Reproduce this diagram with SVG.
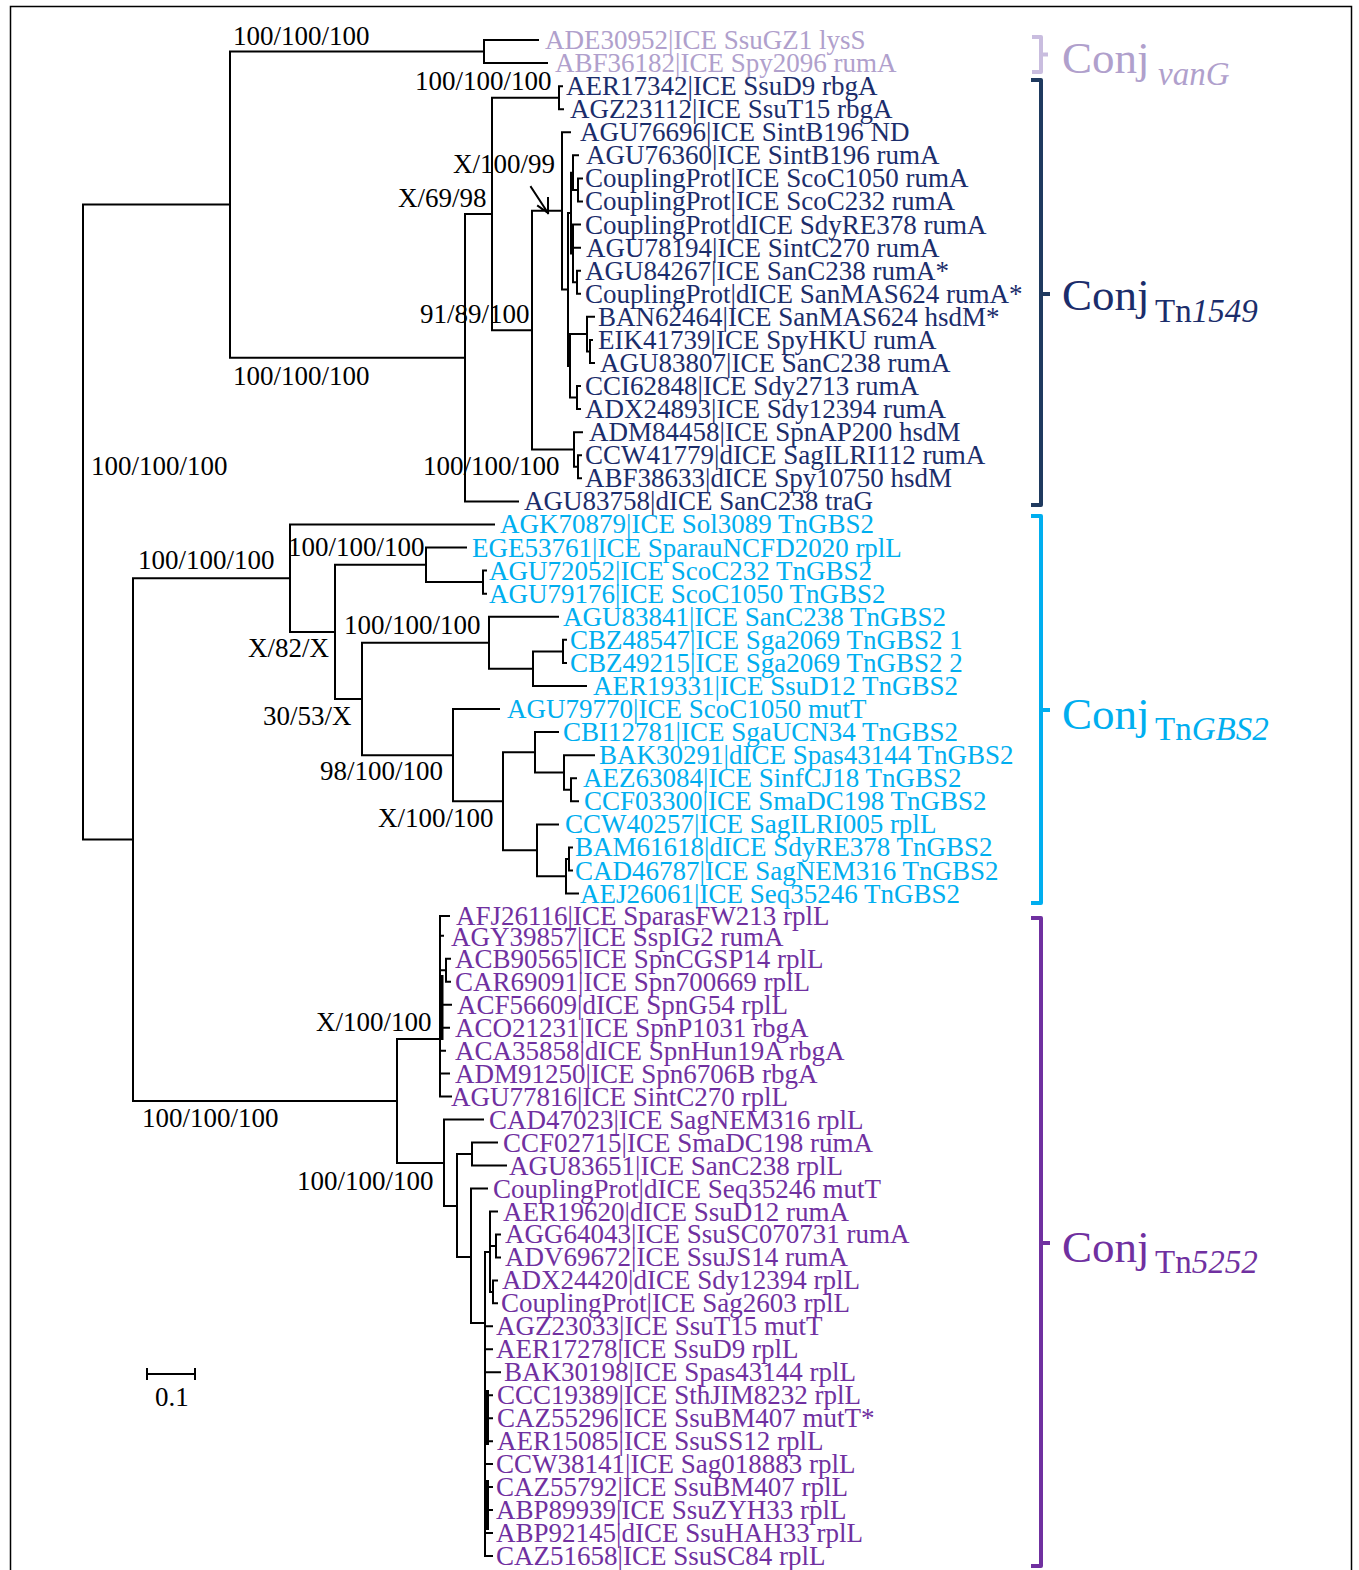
<svg xmlns="http://www.w3.org/2000/svg" width="1359" height="1570" viewBox="0 0 1359 1570">
<style>
text{font-family:"Liberation Serif","Times New Roman",serif;font-size:27px}
.br{fill:none;stroke:#000;stroke-width:2;stroke-linecap:square}
.thick{fill:none;stroke:#000;stroke-width:4}
.sv{fill:#000}
.vg{fill:#b0a0cc}
.t15{fill:#1b2d6b}
.gb{fill:#00aeef}
.t52{fill:#7030a0}
.bk{fill:none;stroke-width:4;stroke-linejoin:round}
.big{font-size:45px}
.sub{font-size:33px}
</style>
<rect x="10.5" y="6.5" width="1341" height="1600" fill="none" stroke="#000" stroke-width="1.5"/>
<g id="connectors">
<path class="br" d="M83,204.6V839.6M83,204.6H230M83,839.6H133
M230,51.5V357.7M230,51.5H484M230,357.7H465
M484,40V63.07M484,40H538M484,63.07H547
M465,213.9V501.4M465,213.9H492M465,501.4H518
M492,97.7V330.2M492,97.7H559M492,330.2H532
M559,86.14V109.21M559,86.14H562M559,109.21H563
M532,210.8V449.5M532,210.8H562M532,449.5H574
M562,132.28V289.4M562,132.28H570M562,289.4H568
M568,213V365.9M568,213H571M568,365.9H570
M571,172.65V253.4M571,172.65H573M571,253.4H573
M573,155.35V189.96M573,155.35H578M573,189.96H578
M578,178.42V201.49M578,178.42H582M578,201.49H582
M573,224.56V282.24M573,224.56H580M573,247.63H580M573,282.24H577
M577,270.7V293.77M577,270.7H580M577,293.77H580
M570,334.1V397.6M570,334.1H587M570,397.6H577
M587,316.84V351.45M587,316.84H594M587,351.45H590
M590,339.91V362.98M590,339.91H592M590,362.98H594
M577,386.05V409.12M577,386.05H580M577,409.12H580
M574,432.19V466.8M574,432.19H582M574,466.8H578
M578,455.26V478.33M578,455.26H581M578,478.33H581
M133,578.2V1101M133,578.2H290M133,1101H397
M290,524.47V631.9M290,524.47H494M290,631.9H335
M335,564.8V698.9M335,564.8H426M335,698.9H362
M426,547.54V582.1M426,547.54H466M426,582.1H483
M483,570.61V593.68M483,570.61H486M483,593.68H486
M362,642.7V755.2M362,642.7H489M362,755.2H453
M489,616.75V668.7M489,616.75H558M489,668.7H533
M533,651.4V685.96M533,651.4H563M533,685.96H586
M563,639.82V662.89M563,639.82H566M563,662.89H566
M453,709.03V801.3M453,709.03H499M453,801.3H503
M503,752.3V850.3M503,752.3H535M503,850.3H537
M535,732.1V772.5M535,732.1H558M535,772.5H564
M564,755.17V789.8M564,755.17H594M564,789.8H571
M571,778.24V801.31M571,778.24H576M571,801.31H578
M537,824.38V876.3M537,824.38H558M537,876.3H566
M566,859V893.59M566,859H569M566,893.59H578
M569,847.45V870.52M569,847.45H572M569,870.52H572
M397,1039V1163M397,1039H440M397,1163H444
M440,916V1096.6M440,916H449M440,935.8H443M440,970.3H446M440,1004.7H451M440,1027.7H449M440,1050.7H445M440,1073.6H449M440,1096.6H451
M446,958.8V981.8M446,958.8H450M446,981.8H450
M444,1119.6V1206M444,1119.6H483M444,1206H457
M457,1154V1257M457,1154H472M457,1257H471
M472,1142.6V1165.5M472,1142.6H497M472,1165.5H506
M471,1188.5V1323M471,1188.5H487M471,1323H485
M485,1252V1556M485,1252H490
M490,1211.5V1292M490,1211.5H497M490,1246H496M490,1292H493
M496,1234.4V1257.4M496,1234.4H500M496,1257.4H500
M493,1280.4V1303.3M493,1280.4H497M493,1303.3H497
M485,1326.3H492M485,1349.3H492M485,1372.3H500M485,1395.2H492M485,1418.2H492M485,1441.2H492M485,1464.1H492M485,1487.1H492M485,1510.1H492M485,1533H492M485,1556H492
M531,187L548,213M548,213L548,198M548,213L538,206"/>
<path class="thick" d="M441.5,975V1040M487,1390V1445M487,1480V1530"/>
</g>
<g id="scale">
<path class="br" d="M147,1374H195M147,1369V1379M195,1369V1379"/>
<text class="sv" x="155" y="1406">0.1</text>
</g>
<g id="support" class="sv">
<text x="233" y="45">100/100/100</text>
<text x="233" y="385">100/100/100</text>
<text x="91" y="475">100/100/100</text>
<text x="415" y="90">100/100/100</text>
<text x="453" y="173">X/100/99</text>
<text x="398" y="207">X/69/98</text>
<text x="420" y="323">91/89/100</text>
<text x="423" y="475">100/100/100</text>
<text x="138" y="569">100/100/100</text>
<text x="288" y="556">100/100/100</text>
<text x="248" y="657">X/82/X</text>
<text x="344" y="634">100/100/100</text>
<text x="263" y="725">30/53/X</text>
<text x="320" y="780">98/100/100</text>
<text x="378" y="827">X/100/100</text>
<text x="316" y="1031">X/100/100</text>
<text x="142" y="1127">100/100/100</text>
<text x="297" y="1190">100/100/100</text>
</g>
<g id="leaves">
<g id="n0" class="vg"><text x="545" y="49">ADE30952|ICE SsuGZ1 lysS</text></g>
<g id="n1" class="vg"><text x="555" y="72.07">ABF36182|ICE Spy2096 rumA</text></g>
<g id="n2" class="t15"><text x="566" y="95.14">AER17342|ICE SsuD9 rbgA</text></g>
<g id="n3" class="t15"><text x="570" y="118.21">AGZ23112|ICE SsuT15 rbgA</text></g>
<g id="n4" class="t15"><text x="580" y="141.28">AGU76696|ICE SintB196 ND</text></g>
<g id="n5" class="t15"><text x="586" y="164.35">AGU76360|ICE SintB196 rumA</text></g>
<g id="n6" class="t15"><text x="585" y="187.42">CouplingProt|ICE ScoC1050 rumA</text></g>
<g id="n7" class="t15"><text x="585" y="210.49">CouplingProt|ICE ScoC232 rumA</text></g>
<g id="n8" class="t15"><text x="585" y="233.56">CouplingProt|dICE SdyRE378 rumA</text></g>
<g id="n9" class="t15"><text x="586" y="256.63">AGU78194|ICE SintC270 rumA</text></g>
<g id="n10" class="t15"><text x="585" y="279.7">AGU84267|ICE SanC238 rumA*</text></g>
<g id="n11" class="t15"><text x="585" y="302.77">CouplingProt|dICE SanMAS624 rumA*</text></g>
<g id="n12" class="t15"><text x="598" y="325.84">BAN62464|ICE SanMAS624 hsdM*</text></g>
<g id="n13" class="t15"><text x="598" y="348.91">EIK41739|ICE SpyHKU rumA</text></g>
<g id="n14" class="t15"><text x="600" y="371.98">AGU83807|ICE SanC238 rumA</text></g>
<g id="n15" class="t15"><text x="585" y="395.05">CCI62848|ICE Sdy2713 rumA</text></g>
<g id="n16" class="t15"><text x="585" y="418.12">ADX24893|ICE Sdy12394 rumA</text></g>
<g id="n17" class="t15"><text x="589" y="441.19">ADM84458|ICE SpnAP200 hsdM</text></g>
<g id="n18" class="t15"><text x="585" y="464.26">CCW41779|dICE SagILRI112 rumA</text></g>
<g id="n19" class="t15"><text x="585" y="487.33">ABF38633|dICE Spy10750 hsdM</text></g>
<g id="n20" class="t15"><text x="524" y="510.4">AGU83758|dICE SanC238 traG</text></g>
<g id="n21" class="gb"><text x="500" y="533.47">AGK70879|ICE Sol3089 TnGBS2</text></g>
<g id="n22" class="gb"><text x="472" y="556.54">EGE53761|ICE SparauNCFD2020 rplL</text></g>
<g id="n23" class="gb"><text x="489" y="579.61">AGU72052|ICE ScoC232 TnGBS2</text></g>
<g id="n24" class="gb"><text x="489" y="602.68">AGU79176|ICE ScoC1050 TnGBS2</text></g>
<g id="n25" class="gb"><text x="563" y="625.75">AGU83841|ICE SanC238 TnGBS2</text></g>
<g id="n26" class="gb"><text x="570" y="648.82">CBZ48547|ICE Sga2069 TnGBS2 1</text></g>
<g id="n27" class="gb"><text x="570" y="671.89">CBZ49215|ICE Sga2069 TnGBS2 2</text></g>
<g id="n28" class="gb"><text x="593" y="694.96">AER19331|ICE SsuD12 TnGBS2</text></g>
<g id="n29" class="gb"><text x="507" y="718.03">AGU79770|ICE ScoC1050 mutT</text></g>
<g id="n30" class="gb"><text x="563" y="741.1">CBI12781|ICE SgaUCN34 TnGBS2</text></g>
<g id="n31" class="gb"><text x="599" y="764.17">BAK30291|dICE Spas43144 TnGBS2</text></g>
<g id="n32" class="gb"><text x="583" y="787.24">AEZ63084|ICE SinfCJ18 TnGBS2</text></g>
<g id="n33" class="gb"><text x="584" y="810.31">CCF03300|ICE SmaDC198 TnGBS2</text></g>
<g id="n34" class="gb"><text x="565" y="833.38">CCW40257|ICE SagILRI005 rplL</text></g>
<g id="n35" class="gb"><text x="575" y="856.45">BAM61618|dICE SdyRE378 TnGBS2</text></g>
<g id="n36" class="gb"><text x="575" y="879.52">CAD46787|ICE SagNEM316 TnGBS2</text></g>
<g id="n37" class="gb"><text x="580" y="902.59">AEJ26061|ICE Seq35246 TnGBS2</text></g>
<g id="n38" class="t52"><text x="456" y="925">AFJ26116|ICE SparasFW213 rplL</text></g>
<g id="n39" class="t52"><text x="451" y="945.8">AGY39857|ICE SspIG2 rumA</text></g>
<g id="n40" class="t52"><text x="455" y="967.8">ACB90565|ICE SpnCGSP14 rplL</text></g>
<g id="n41" class="t52"><text x="455" y="990.8">CAR69091|ICE Spn700669 rplL</text></g>
<g id="n42" class="t52"><text x="457" y="1013.7">ACF56609|dICE SpnG54 rplL</text></g>
<g id="n43" class="t52"><text x="455" y="1036.7">ACO21231|ICE SpnP1031 rbgA</text></g>
<g id="n44" class="t52"><text x="455" y="1059.7">ACA35858|dICE SpnHun19A rbgA</text></g>
<g id="n45" class="t52"><text x="455" y="1082.6">ADM91250|ICE Spn6706B rbgA</text></g>
<g id="n46" class="t52"><text x="451" y="1105.6">AGU77816|ICE SintC270 rplL</text></g>
<g id="n47" class="t52"><text x="489" y="1128.6">CAD47023|ICE SagNEM316 rplL</text></g>
<g id="n48" class="t52"><text x="503" y="1151.6">CCF02715|ICE SmaDC198 rumA</text></g>
<g id="n49" class="t52"><text x="509" y="1174.5">AGU83651|ICE SanC238 rplL</text></g>
<g id="n50" class="t52"><text x="493" y="1197.5">CouplingProt|dICE Seq35246 mutT</text></g>
<g id="n51" class="t52"><text x="503" y="1220.5">AER19620|dICE SsuD12 rumA</text></g>
<g id="n52" class="t52"><text x="505" y="1243.4">AGG64043|ICE SsuSC070731 rumA</text></g>
<g id="n53" class="t52"><text x="505" y="1266.4">ADV69672|ICE SsuJS14 rumA</text></g>
<g id="n54" class="t52"><text x="502" y="1289.4">ADX24420|dICE Sdy12394 rplL</text></g>
<g id="n55" class="t52"><text x="501" y="1312.3">CouplingProt|ICE Sag2603 rplL</text></g>
<g id="n56" class="t52"><text x="496" y="1335.3">AGZ23033|ICE SsuT15 mutT</text></g>
<g id="n57" class="t52"><text x="496" y="1358.3">AER17278|ICE SsuD9 rplL</text></g>
<g id="n58" class="t52"><text x="504" y="1381.3">BAK30198|ICE Spas43144 rplL</text></g>
<g id="n59" class="t52"><text x="497" y="1404.2">CCC19389|ICE SthJIM8232 rplL</text></g>
<g id="n60" class="t52"><text x="497" y="1427.2">CAZ55296|ICE SsuBM407 mutT*</text></g>
<g id="n61" class="t52"><text x="497" y="1450.2">AER15085|ICE SsuSS12 rplL</text></g>
<g id="n62" class="t52"><text x="496" y="1473.1">CCW38141|ICE Sag018883 rplL</text></g>
<g id="n63" class="t52"><text x="496" y="1496.1">CAZ55792|ICE SsuBM407 rplL</text></g>
<g id="n64" class="t52"><text x="496" y="1519.1">ABP89939|ICE SsuZYH33 rplL</text></g>
<g id="n65" class="t52"><text x="496" y="1542">ABP92145|dICE SsuHAH33 rplL</text></g>
<g id="n66" class="t52"><text x="496" y="1565">CAZ51658|ICE SsuSC84 rplL</text></g>
</g>
<g id="clade-vanG">
<path class="bk" stroke="#c9bddf" d="M1032,37H1041V72H1032M1041,54.5H1048"/>
<text class="big vg" x="1062" y="73">Conj</text>
<text class="sub vg" x="1158" y="85" font-style="italic">vanG</text>
</g>
<g id="clade-Tn1549">
<path class="bk" stroke="#1f3a5f" d="M1031,80H1041V505H1031M1041,294H1050"/>
<text class="big t15" x="1062" y="310">Conj</text>
<text class="sub t15" x="1155" y="322">Tn<tspan font-style="italic">1549</tspan></text>
</g>
<g id="clade-TnGBS2">
<path class="bk" stroke="#00aeef" d="M1031,516H1041V903H1031M1041,710H1050"/>
<text class="big gb" x="1062" y="729">Conj</text>
<text class="sub gb" x="1155" y="740">Tn<tspan font-style="italic">GBS2</tspan></text>
</g>
<g id="clade-Tn5252">
<path class="bk" stroke="#7030a0" d="M1031,918H1041V1566H1031M1041,1243H1050"/>
<text class="big t52" x="1062" y="1262">Conj</text>
<text class="sub t52" x="1155" y="1273">Tn<tspan font-style="italic">5252</tspan></text>
</g>
</svg>
